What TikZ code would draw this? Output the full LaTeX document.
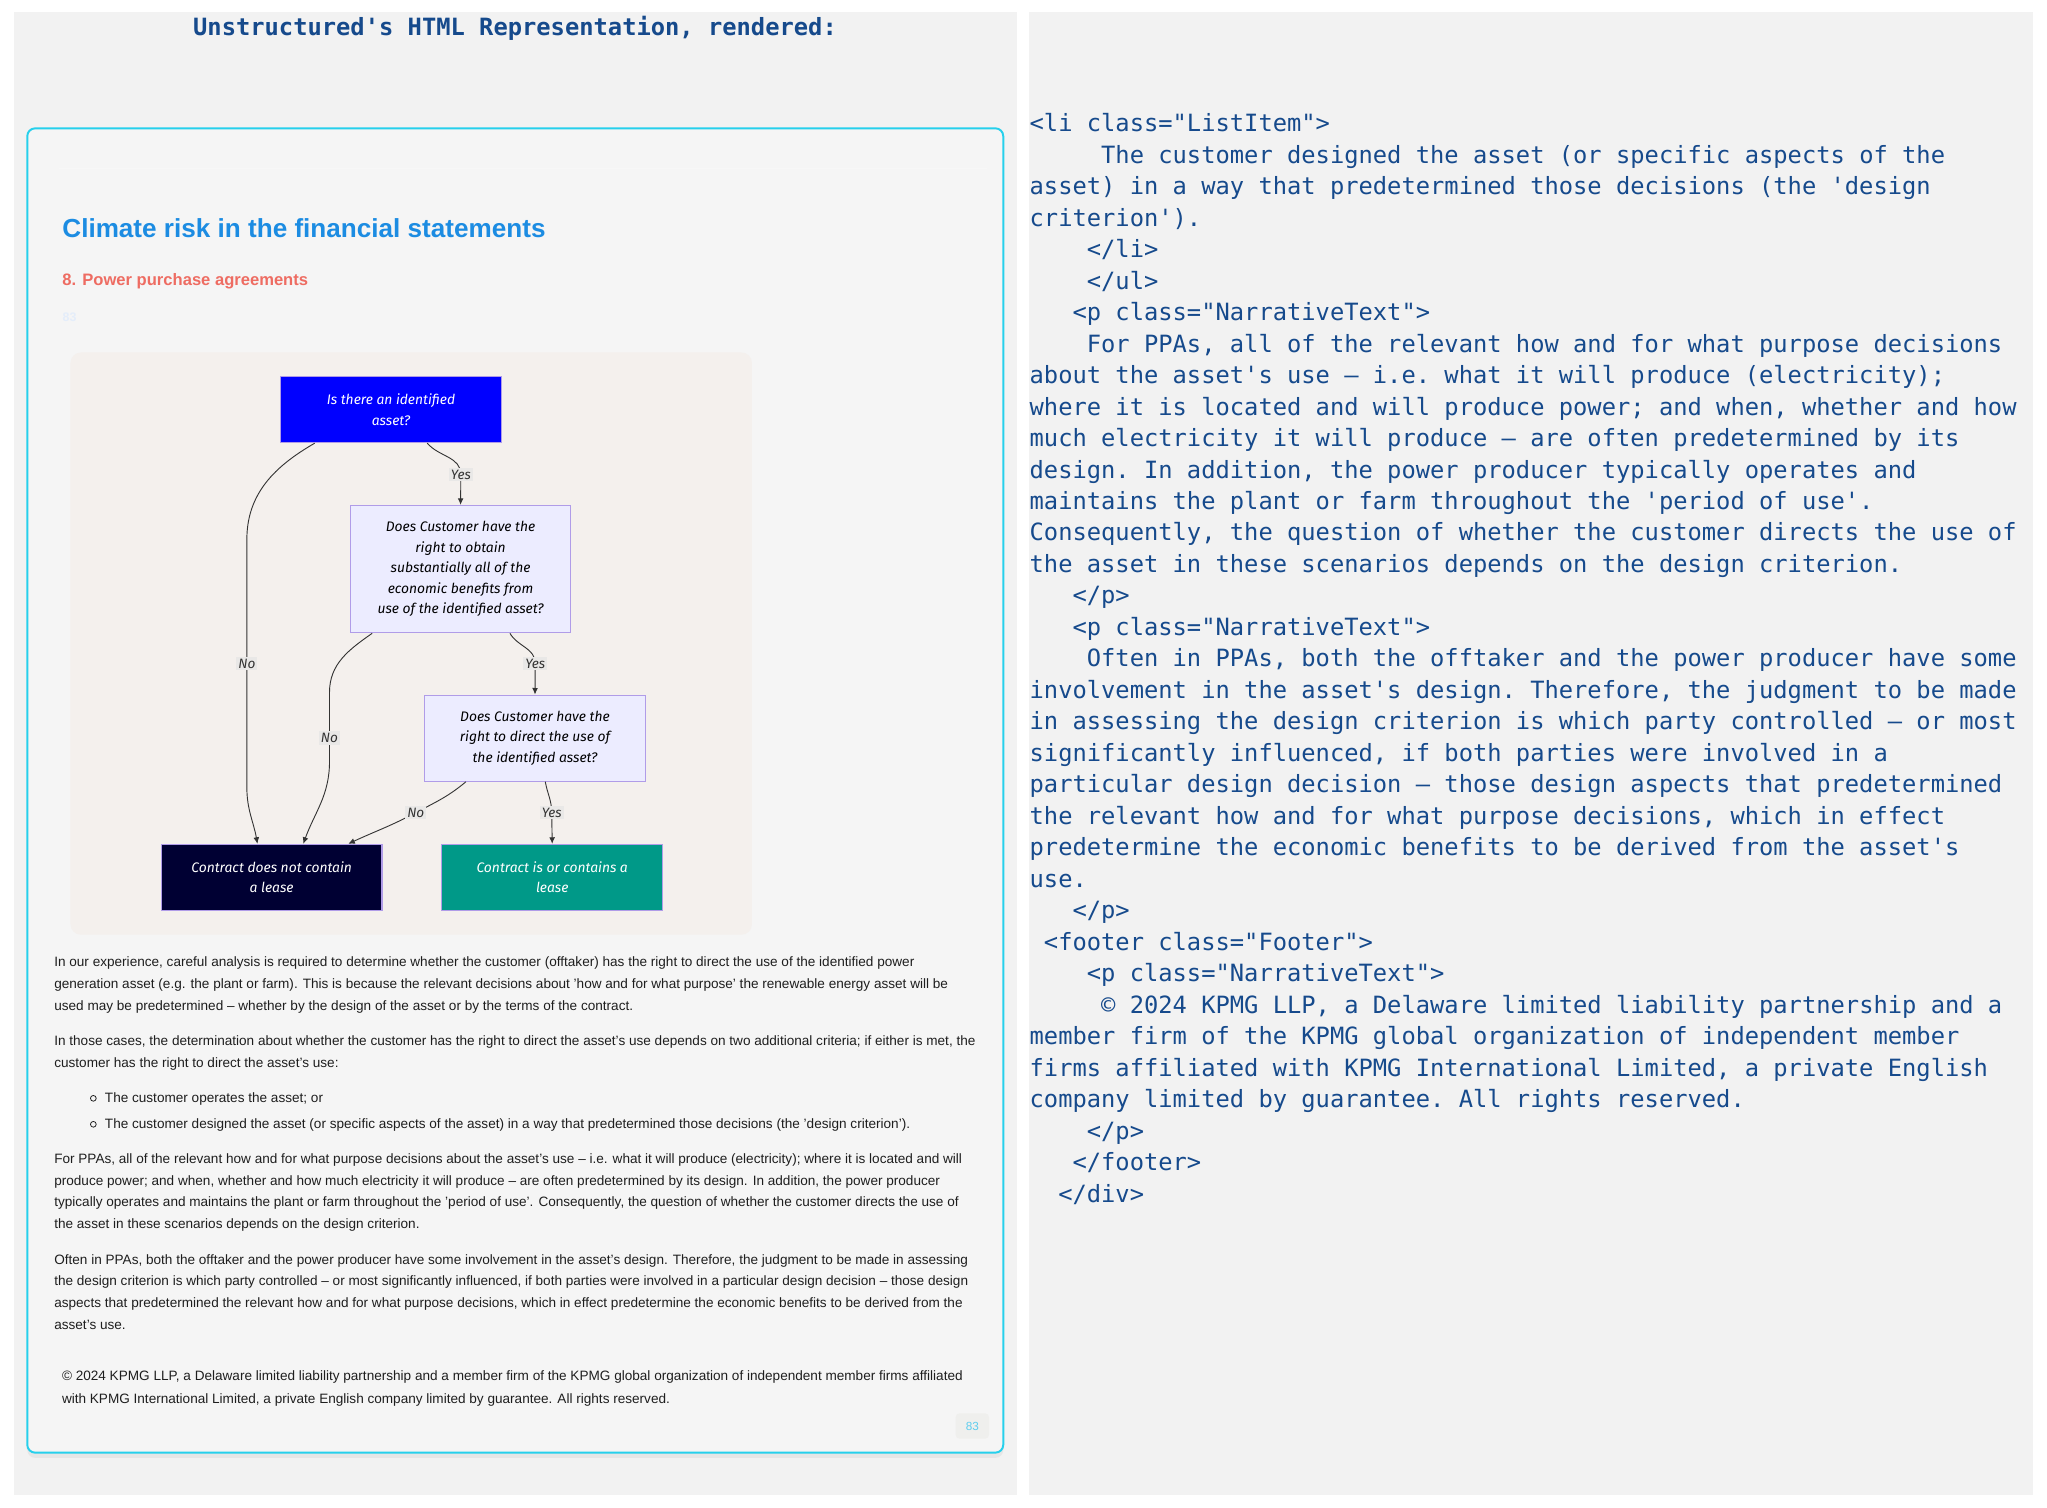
\documentclass[tikz,border=0pt]{standalone}
\usepackage{fontspec}
\setmainfont{Liberation Sans}
\setmonofont{DejaVu Sans Mono}
\newfontfamily\chartfont{Fira Sans}
\usetikzlibrary{arrows.meta,positioning,shadows}

\definecolor{pagegray}{RGB}{242,242,242}
\definecolor{cardgray}{RGB}{245,245,245}
\definecolor{cardedge}{RGB}{38,208,236}
\definecolor{codeblue}{RGB}{22,74,140}
\definecolor{headblue}{RGB}{28,140,226}
\definecolor{subred}{RGB}{238,108,98}
\definecolor{chartbg}{RGB}{244,240,237}
\definecolor{qblue}{RGB}{0,0,255}
\definecolor{qlilac}{RGB}{236,236,255}
\definecolor{qedge}{RGB}{176,156,232}
\definecolor{nonavy}{RGB}{0,0,51}
\definecolor{yesteal}{RGB}{0,153,136}
\definecolor{linkgray}{RGB}{51,51,51}
\definecolor{tagbg}{RGB}{233,232,231}
\definecolor{bodyink}{RGB}{30,30,30}
\definecolor{pagenum}{RGB}{95,205,238}

% indent by n monospace characters
\newcommand{\ind}[1]{\hspace*{#1\dimexpr0.602em\relax}}

\begin{document}
\begin{tikzpicture}[x=1pt,y=1pt,
card/.style={
% The rendered page:
draw=cardedge,
line width=1.5pt,
fill=cardgray,
rounded corners=6pt,
drop shadow={opacity=0.10,shadow xshift=0pt,shadow yshift=-4pt}
},
para/.style={
anchor=north west,
inner sep=0pt,
align=left,
text=bodyink,
font=\fontsize{10.4}{16.6}\selectfont
},
line/.style={
anchor=base west,
inner sep=0pt,
text=bodyink,
font=\fontsize{10.4}{12}\selectfont
},
question/.style={
rectangle,
draw=qedge,
line width=0.8pt,
fill=qlilac,
minimum width=169pt,
align=center,
inner sep=2pt,
font=\chartfont\itshape\fontsize{10.6}{15.7}\selectfont
},
outcome/.style={
question,
text=white,
minimum height=50.5pt
},
tag/.style={
fill=tagbg,
inner sep=1.5pt,
text=linkgray,
font=\chartfont\itshape\fontsize{10.4}{12}\selectfont
},
link/.style={draw=linkgray,line width=0.7pt,-{Latex[length=5pt,width=4.5pt]}},
dot/.style={circle,draw=bodyink,line width=0.6pt,inner sep=0pt,minimum size=4.4pt}
]
% Page and panels:
\useasboundingbox[fill=white] (0,0) rectangle (1568,-1154.4);
\fill[pagegray] (10.7,-9) rectangle (779,-1145);
\fill[pagegray] (788.2,-9) rectangle (1557,-1145);
\node (caption) [anchor=base,inner sep=0pt,text=codeblue,font=\ttfamily\bfseries\fontsize{18.2}{20}\selectfont] at (394.5,-27) {Unstructured's HTML Representation, rendered:};
\draw[card] (20.9,-98.3) rectangle (768.5,-1112.7);
\draw[black!3,line width=1pt] (45,-129) -- (756,-129);
\node (heading) [anchor=base west,inner sep=0pt,text=headblue,font=\bfseries\fontsize{20}{24}\selectfont] at (47.6,-181.8) {Climate risk in the financial statements};
\node (section) [anchor=base west,inner sep=0pt,text=subred,font=\bfseries\fontsize{12.7}{15}\selectfont] at (47.6,-218.8) {8. Power purchase agreements};
\node (ghost) [anchor=base west,inner sep=0pt,text={rgb,255:red,228;green,237;blue,250},font=\bfseries\fontsize{9.5}{11}\selectfont] at (47.8,-246) {83};

% Flowchart:
\fill[chartbg,rounded corners=8pt] (54,-270) rectangle (576,-716);
\node (isasset) [question,fill=qblue,text=white,minimum height=50.7pt] at (299.5,-313.7) {Is there an identified\\asset?};
\node (benefits) [question,minimum height=97.6pt] at (352.8,-435.9) {Does Customer have the\\right to obtain\\substantially all of the\\economic benefits from\\use of the identified asset?};
\node (direct) [question,minimum height=66pt] at (409.8,-565.4) {Does Customer have the\\right to direct the use of\\the identified asset?};
\node (nolease) [outcome,fill=nonavy] at (208.1,-672) {Contract does not contain\\a lease};
\node (lease) [outcome,fill=yesteal] at (423,-672) {Contract is or contains a\\lease};
\coordinate (yes1) at (353,-363.5);
\coordinate (no1) at (189.1,-508.2);
\coordinate (yes2) at (410,-508.2);
\coordinate (no2) at (252.4,-565.3);
\coordinate (no3) at (318.5,-622.5);
\coordinate (yes3) at (422.6,-622.5);
\draw[link] ([xshift=27.8pt]isasset.south) to[out=-50,in=90] (yes1) -- (benefits.north);
\draw[link] ([xshift=-58.4pt]isasset.south) to[out=-150,in=90] ([yshift=95pt]no1) -- ([yshift=-95pt]no1) to[out=-90,in=100] ([xshift=-10.9pt]nolease.north);
\draw[link] ([xshift=37.8pt]benefits.south) to[out=-60,in=90] (yes2) -- (direct.north);
\draw[link] ([xshift=-67.7pt]benefits.south) to[out=-145,in=90] ([yshift=35pt]no2) -- ([yshift=-18pt]no2) to[out=-90,in=70] ([xshift=24.2pt]nolease.north);
\draw[link] ([xshift=-52.9pt]direct.south) to[out=-140,in=28] (no3) to[out=-152,in=25] ([xshift=58.7pt]nolease.north);
\draw[link] ([xshift=7.9pt]direct.south) to[out=-80,in=90] (yes3) -- (lease.north);
\node (tyes1) [tag] at (yes1) {Yes};
\node (tno1) [tag] at (no1) {No};
\node (tyes2) [tag] at (yes2) {Yes};
\node (tno2) [tag] at (no2) {No};
\node (tno3) [tag] at (no3) {No};
\node (tyes3) [tag] at (yes3) {Yes};

% Body text:
\node (para1) [para] at (41.4,-732.9) {In our experience, careful analysis is required to determine whether the customer (offtaker) has the right to direct the use of the identified power\\generation asset (e.g. the plant or farm). This is because the relevant decisions about 'how and for what purpose' the renewable energy asset will be\\used may be predetermined – whether by the design of the asset or by the terms of the contract.};
\node (para2) [para] at (41.4,-793.4) {In those cases, the determination about whether the customer has the right to direct the asset's use depends on two additional criteria; if either is met, the\\customer has the right to direct the asset's use:};
\node (dot1) [dot] at (71.5,-841.3) {};
\node (item1) [line] at (80.2,-844.5) {The customer operates the asset; or};
\node (dot2) [dot] at (71.5,-861.2) {};
\node (item2) [line] at (80.2,-864.4) {The customer designed the asset (or specific aspects of the asset) in a way that predetermined those decisions (the 'design criterion').};
\node (para3) [para] at (41.4,-883.5) {For PPAs, all of the relevant how and for what purpose decisions about the asset's use – i.e. what it will produce (electricity); where it is located and will\\produce power; and when, whether and how much electricity it will produce – are often predetermined by its design. In addition, the power producer\\typically operates and maintains the plant or farm throughout the 'period of use'. Consequently, the question of whether the customer directs the use of\\the asset in these scenarios depends on the design criterion.};
\node (para4) [para] at (41.4,-960.6) {Often in PPAs, both the offtaker and the power producer have some involvement in the asset's design. Therefore, the judgment to be made in assessing\\the design criterion is which party controlled – or most significantly influenced, if both parties were involved in a particular design decision – those design\\aspects that predetermined the relevant how and for what purpose decisions, which in effect predetermine the economic benefits to be derived from the\\asset's use.};
\node (footer) [para,font=\fontsize{10.4}{17.1}\selectfont] at (47.3,-1050) {© 2024 KPMG LLP, a Delaware limited liability partnership and a member firm of the KPMG global organization of independent member firms affiliated\\with KPMG International Limited, a private English company limited by guarantee. All rights reserved.};
\node (pageno) [fill={rgb,255:red,239;green,239;blue,237},rounded corners=3pt,minimum width=25.6pt,minimum height=19.4pt,inner sep=0pt,text=pagenum,font=\fontsize{9}{10}\selectfont] at (744.8,-1092.3) {83};

% HTML source:
\node (source) [anchor=north west,inner sep=0pt,align=left,text=codeblue,font=\ttfamily\fontsize{18.2}{24.12}\selectfont] at (788.5,-86.7) {%
<li class="ListItem">\\
\ind{5}The customer designed the asset (or specific aspects of the\\
asset) in a way that predetermined those decisions (the 'design\\
criterion').\\
\ind{4}</li>\\
\ind{4}</ul>\\
\ind{3}<p class="NarrativeText">\\
\ind{4}For PPAs, all of the relevant how and for what purpose decisions\\
about the asset's use – i.e. what it will produce (electricity);\\
where it is located and will produce power; and when, whether and how\\
much electricity it will produce – are often predetermined by its\\
design. In addition, the power producer typically operates and\\
maintains the plant or farm throughout the 'period of use'.\\
Consequently, the question of whether the customer directs the use of\\
the asset in these scenarios depends on the design criterion.\\
\ind{3}</p>\\
\ind{3}<p class="NarrativeText">\\
\ind{4}Often in PPAs, both the offtaker and the power producer have some\\
involvement in the asset's design. Therefore, the judgment to be made\\
in assessing the design criterion is which party controlled – or most\\
significantly influenced, if both parties were involved in a\\
particular design decision – those design aspects that predetermined\\
the relevant how and for what purpose decisions, which in effect\\
predetermine the economic benefits to be derived from the asset's\\
use.\\
\ind{3}</p>\\
\ind{1}<footer class="Footer">\\
\ind{4}<p class="NarrativeText">\\
\ind{5}© 2024 KPMG LLP, a Delaware limited liability partnership and a\\
member firm of the KPMG global organization of independent member\\
firms affiliated with KPMG International Limited, a private English\\
company limited by guarantee. All rights reserved.\\
\ind{4}</p>\\
\ind{3}</footer>\\
\ind{2}</div>};
\end{tikzpicture}
\end{document}
